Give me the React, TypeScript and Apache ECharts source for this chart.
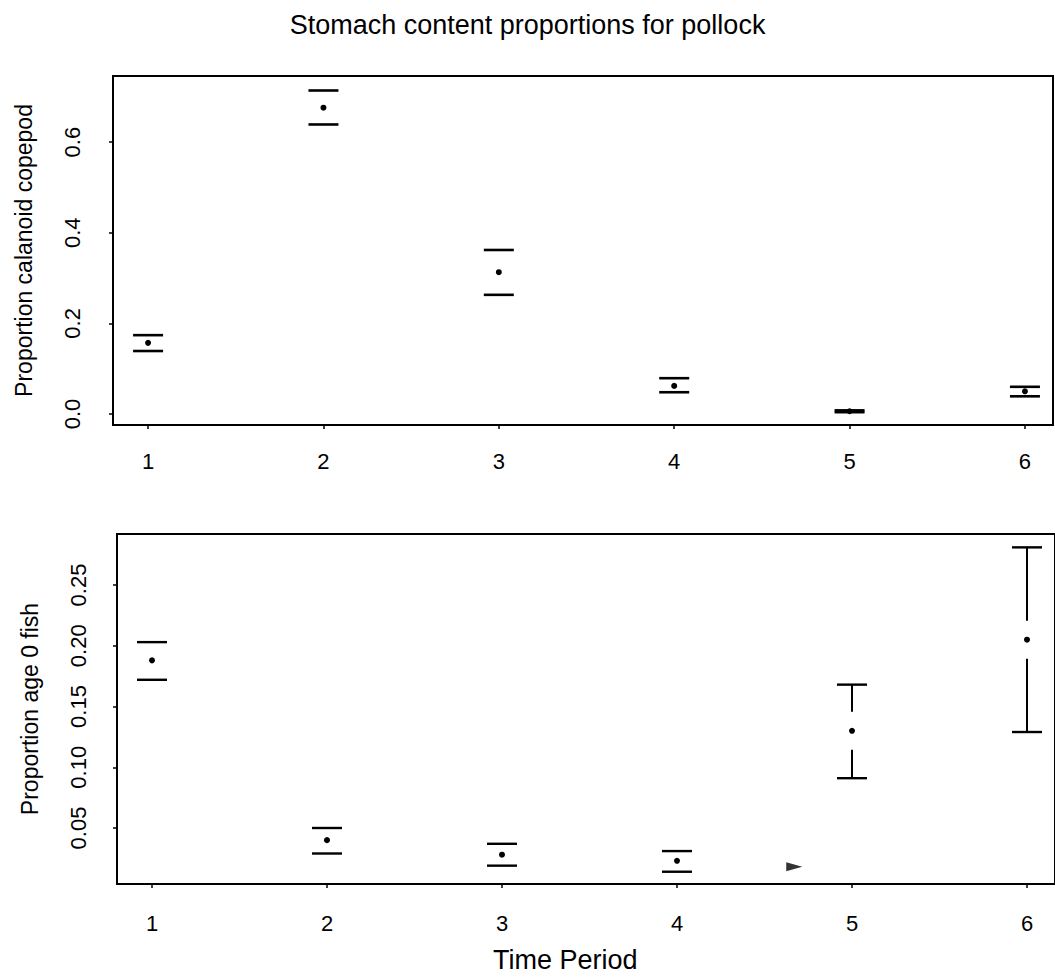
import React, { useEffect, useRef } from "react";
import * as echarts from "echarts";

const periods = [1, 2, 3, 4, 5, 6];

const copepodMean = [0.157, 0.676, 0.313, 0.062, 0.006, 0.05];
const copepodLower = [0.139, 0.639, 0.263, 0.048, 0.004, 0.039];
const copepodUpper = [0.174, 0.714, 0.362, 0.079, 0.008, 0.06];

const fishMean = [0.188, 0.04, 0.028, 0.023, 0.13, 0.205];
const fishLower = [0.172, 0.029, 0.019, 0.014, 0.091, 0.129];
const fishUpper = [0.203, 0.05, 0.037, 0.031, 0.168, 0.281];

// stray mark near period 5 in the lower panel
const strayMark = [[4.67, 0.018]];

const copepodTicks = [0, 0.2, 0.4, 0.6];
const fishTicks = [0.05, 0.1, 0.15, 0.2, 0.25];

const FONT = "Liberation Sans, Arial, Helvetica, sans-serif";
const CAP = 30;
const GAP = 19;
const MIN_SEG = 8;

function makeRender(capWidth: number, lineW: number) {
  return (params: any, api: any) => {
    const x = api.value(0);
    const m = api.value(1);
    const lo = api.value(2);
    const hi = api.value(3);
    const pm = api.coord([x, m]);
    const pl = api.coord([x, lo]);
    const ph = api.coord([x, hi]);
    const stroke = { stroke: "#000", lineWidth: capWidth };
    const vstroke = { stroke: "#000", lineWidth: lineW };
    const children: any[] = [
      { type: "line", shape: { x1: ph[0] - CAP / 2, y1: ph[1], x2: ph[0] + CAP / 2, y2: ph[1] }, style: stroke },
      { type: "line", shape: { x1: pl[0] - CAP / 2, y1: pl[1], x2: pl[0] + CAP / 2, y2: pl[1] }, style: stroke },
    ];
    if (pm[1] - GAP - ph[1] > MIN_SEG) {
      children.push({ type: "line", shape: { x1: ph[0], y1: ph[1], x2: pm[0], y2: pm[1] - GAP }, style: vstroke });
    }
    if (pl[1] - (pm[1] + GAP) > MIN_SEG) {
      children.push({ type: "line", shape: { x1: pm[0], y1: pm[1] + GAP, x2: pl[0], y2: pl[1] }, style: vstroke });
    }
    children.push({ type: "circle", shape: { cx: pm[0], cy: pm[1], r: 3 }, style: { fill: "#000" } });
    return { type: "group", children };
  };
}

export default function App() {
  const ref = useRef<HTMLDivElement>(null);
  useEffect(() => {
    if (!ref.current) return;
    const chart = echarts.init(ref.current, null, { renderer: "svg" });
    const copepodData = periods.map((p, i) => [p, copepodMean[i], copepodLower[i], copepodUpper[i]]);
    const fishData = periods.map((p, i) => [p, fishMean[i], fishLower[i], fishUpper[i]]);

    const xAxisBase = (gridIndex: number, margin: number) => ({
      type: "value",
      gridIndex,
      min: 0.8,
      max: 6.16,
      splitLine: { show: false },
      axisLine: { show: false, onZero: false },
      axisTick: { show: true, length: 4, customValues: periods, lineStyle: { color: "#000", width: 1.5 } },
      axisLabel: {
        customValues: periods,
        color: "#000",
        fontSize: 22,
        fontFamily: FONT,
        margin,
        formatter: (v: number) => String(v),
      },
    });

    const option: any = {
      animation: false,
      backgroundColor: "#fff",
      title: [
        {
          text: "Stomach content proportions for pollock",
          left: "center",
          top: 6,
          textStyle: { fontSize: 27, fontWeight: "normal", color: "#000", fontFamily: FONT },
        },
        {
          text: "Time Period",
          left: 488,
          top: 941,
          textStyle: { fontSize: 27, fontWeight: "normal", color: "#000", fontFamily: FONT },
        },
      ],
      grid: [
        { left: 113, top: 76, width: 940, height: 349, show: true, borderColor: "#000", borderWidth: 2, backgroundColor: "transparent" },
        { left: 117, top: 534, width: 943, height: 350, show: true, borderColor: "#000", borderWidth: 2, backgroundColor: "transparent" },
      ],
      xAxis: [xAxisBase(0, 25), xAxisBase(1, 28)],
      yAxis: [
        {
          type: "value",
          gridIndex: 0,
          min: -0.0243,
          max: 0.746,
          name: "Proportion calanoid copepod",
          nameLocation: "middle",
          nameGap: 78,
          nameTextStyle: { fontSize: 23, color: "#000", fontFamily: FONT },
          splitLine: { show: false },
          axisLine: { show: false, onZero: false },
          axisTick: { show: true, length: 4, customValues: copepodTicks, lineStyle: { color: "#000", width: 1.5 } },
          axisLabel: {
            customValues: copepodTicks,
            rotate: 90,
            color: "#000",
            fontSize: 22,
            fontFamily: FONT,
            margin: 30,
            formatter: (v: number) => v.toFixed(1),
          },
        },
        {
          type: "value",
          gridIndex: 1,
          min: 0.0039,
          max: 0.292,
          name: "Proportion age 0 fish",
          nameLocation: "middle",
          nameGap: 76,
          nameTextStyle: { fontSize: 23, color: "#000", fontFamily: FONT },
          splitLine: { show: false },
          axisLine: { show: false, onZero: false },
          axisTick: { show: true, length: 4, customValues: fishTicks, lineStyle: { color: "#000", width: 1.5 } },
          axisLabel: {
            customValues: fishTicks,
            rotate: 90,
            color: "#000",
            fontSize: 22,
            fontFamily: FONT,
            margin: 28,
            formatter: (v: number) => v.toFixed(2),
          },
        },
      ],
      series: [
        {
          type: "custom",
          name: "copepod",
          xAxisIndex: 0,
          yAxisIndex: 0,
          renderItem: makeRender(2.6, 2),
          encode: { x: 0, y: [1, 2, 3] },
          data: copepodData,
          clip: false,
        },
        {
          type: "custom",
          name: "fish",
          xAxisIndex: 1,
          yAxisIndex: 1,
          renderItem: makeRender(2.4, 2),
          encode: { x: 0, y: [1, 2, 3] },
          data: fishData,
          clip: false,
        },
        {
          type: "scatter",
          xAxisIndex: 1,
          yAxisIndex: 1,
          symbol: "triangle",
          symbolSize: [9, 16],
          symbolRotate: -90,
          itemStyle: { color: "#000" },
          data: strayMark,
        },
      ],
    };
    chart.setOption(option);
    return () => chart.dispose();
  }, []);
  return (
    <div
      ref={ref}
      style={{ position: "absolute", left: 0, top: 0, width: 1055, height: 979, overflow: "hidden", background: "#fff" }}
    />
  );
}
